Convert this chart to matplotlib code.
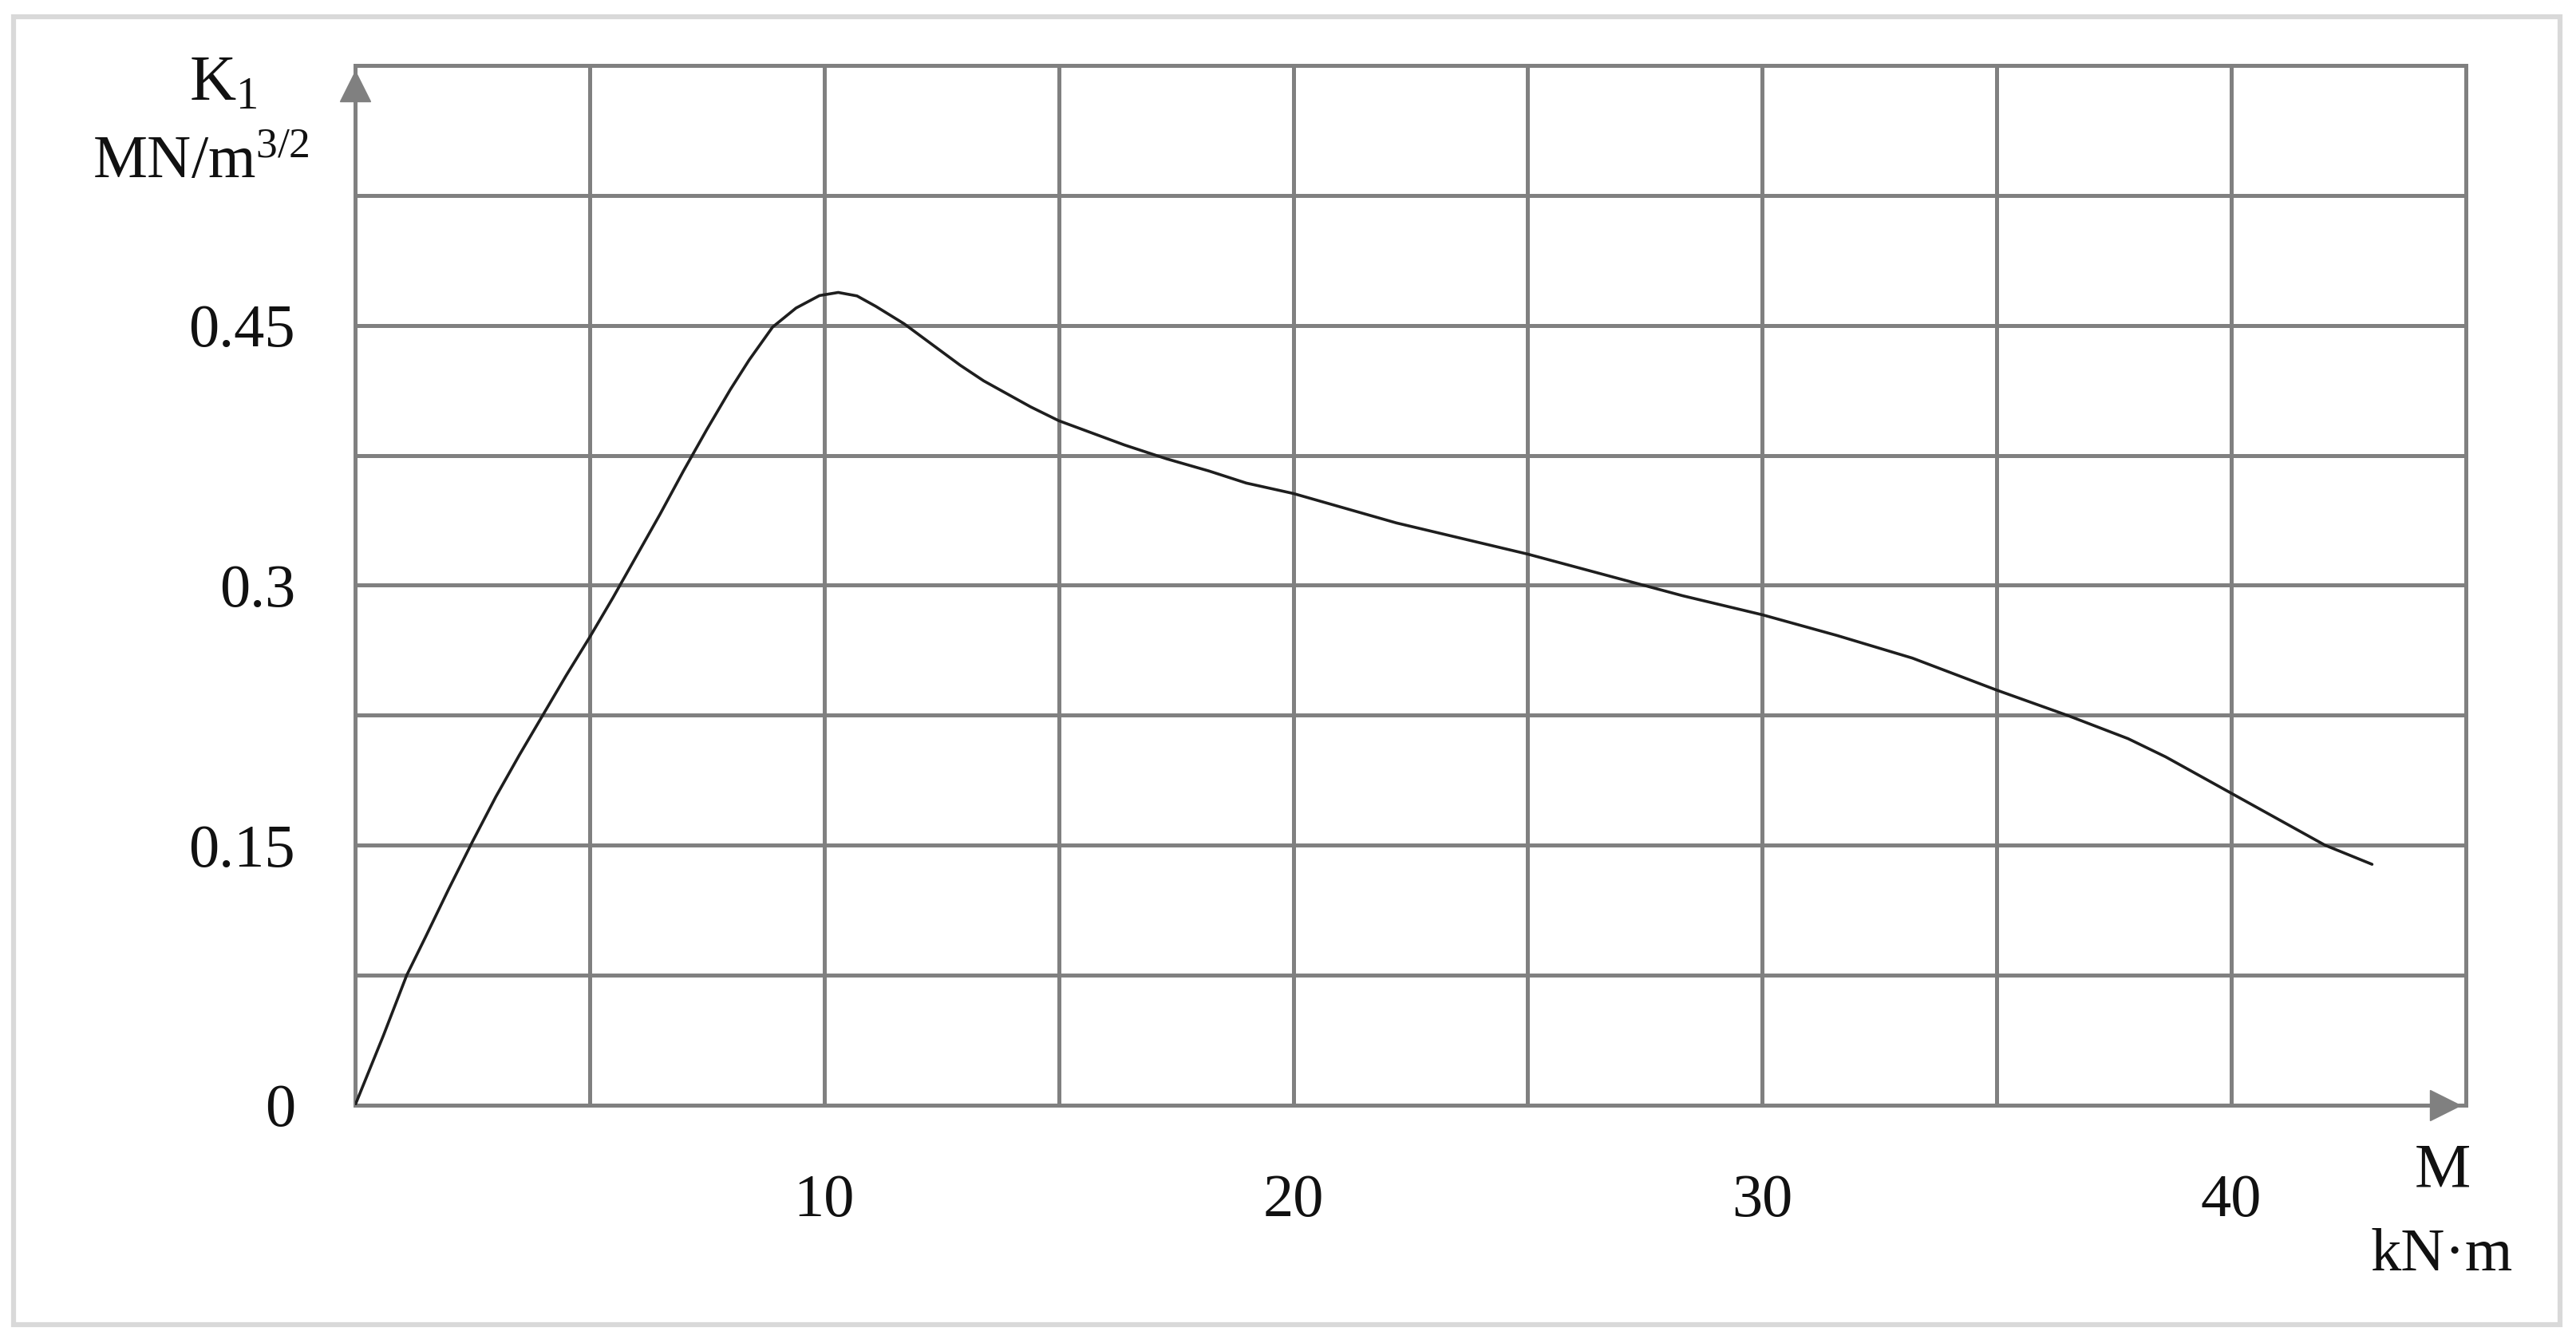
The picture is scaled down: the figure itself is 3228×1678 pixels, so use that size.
import matplotlib
matplotlib.use("Agg")
import matplotlib.pyplot as plt
from matplotlib.patches import Rectangle

# bending moment M (kN·m) vs stress intensity factor K1 (MN/m^3/2)
moment = [0, 0.6, 1.1, 1.5, 2.0, 2.5, 3.0, 3.5, 4.0, 4.5, 5.0, 5.5, 6.0,
          6.5, 7.0, 7.5, 8.0, 8.4, 8.9, 9.4, 9.9, 10.3, 10.7, 11.1, 11.7,
          12.3, 12.9, 13.4, 13.8, 14.4, 15.0, 15.7, 16.4, 17.3, 18.2, 19.0,
          20.0, 22.2, 25.0, 27.2, 28.3, 30.0, 31.6, 33.2, 35.0, 36.5, 37.8,
          38.6, 40.0, 42.0, 43.0]
k1 = [0, 0.040, 0.075, 0.097, 0.125, 0.152, 0.178, 0.202, 0.225, 0.248,
      0.270, 0.293, 0.317, 0.341, 0.366, 0.390, 0.413, 0.430, 0.449, 0.460,
      0.4672, 0.469, 0.467, 0.461, 0.451, 0.439, 0.427, 0.418, 0.412, 0.403,
      0.395, 0.388, 0.381, 0.373, 0.366, 0.359, 0.353, 0.336, 0.318, 0.302,
      0.294, 0.283, 0.271, 0.258, 0.2395, 0.225, 0.2115, 0.201, 0.180,
      0.150, 0.139]

x_ticks = [0, 5, 10, 15, 20, 25, 30, 35, 40, 45]
x_labels = ["", "", "10", "", "20", "", "30", "", "40", ""]
y_ticks = [0, 0.075, 0.15, 0.225, 0.3, 0.375, 0.45, 0.525, 0.6]
y_labels = ["0", "", "0.15", "", "0.3", "", "0.45", "", ""]

plt.rcParams["font.family"] = ["Liberation Serif", "DejaVu Serif"]
plt.rcParams["mathtext.fontset"] = "custom"
plt.rcParams["mathtext.rm"] = "Liberation Serif"
plt.rcParams["mathtext.it"] = "Liberation Serif:italic"

W, H = 3228, 1678
fig = plt.figure(figsize=(W / 100, H / 100), dpi=100)
fig.patch.set_facecolor("white")

def fx(px):
    return px / W

def fy(py):
    return 1 - py / H

grid_c = "#808080"
ax = fig.add_axes([fx(445), fy(1385), fx(3090) - fx(445), fy(82) - fy(1385)])
ax.set_xlim(0, 45)
ax.set_ylim(0, 0.6)
ax.set_xticks(x_ticks)
ax.set_xticklabels(x_labels)
ax.set_yticks(y_ticks)
ax.set_yticklabels(y_labels)
ax.tick_params(length=0, labelsize=55, colors="#111111")
ax.tick_params(axis="x", pad=62)
ax.tick_params(axis="y", pad=54)
ax.grid(True, color=grid_c, lw=3.6)
ax.set_axisbelow(True)
for s in ax.spines.values():
    s.set_color(grid_c)
    s.set_linewidth(3.6)

ax.plot(moment, k1, color="#1e1e1e", lw=2.6, zorder=3,
        solid_joinstyle="round", solid_capstyle="round")

# axis arrows
ax.plot([0], [0.588], marker="^", ms=27, color=grid_c, clip_on=False, zorder=4)
ax.plot([44.55], [0], marker=">", ms=27, color=grid_c, clip_on=False, zorder=4)

# axis captions
fig.text(fx(280), fy(106), r"K$_1$", fontsize=58, ha="center", va="center", color="#111111")
fig.text(fx(252), fy(205), r"MN/m$^{3/2}$", fontsize=55, ha="center", va="center", color="#111111")
fig.text(fx(3061), fy(1468), "M", fontsize=57, ha="center", va="center", color="#111111")
fig.text(fx(3060), fy(1574), "kN·m", fontsize=55, ha="center", va="center", color="#111111")

# outer frame
fig.add_artist(Rectangle((fx(17), fy(1660)), fx(3208) - fx(17), fy(21) - fy(1660),
                         transform=fig.transFigure, fill=False,
                         edgecolor="#d9d9d9", lw=4.5))

fig.savefig("out.png", dpi=100, facecolor="white")
